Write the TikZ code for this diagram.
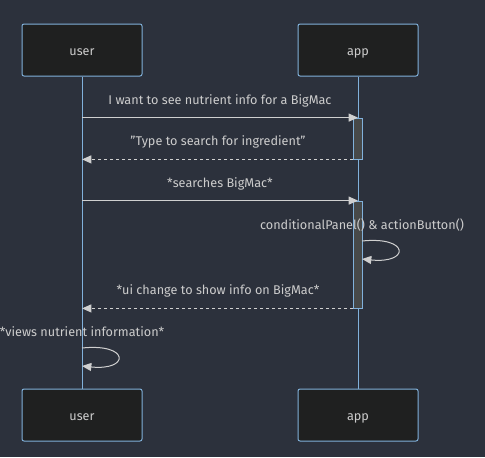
\documentclass[tikz,border=0pt]{standalone}
\usepackage{fontspec}
\setmainfont{Fira Sans}
\usetikzlibrary{arrows.meta}

\definecolor{bgdark}{HTML}{2C313C}
\definecolor{boxfill}{HTML}{1F2020}
\definecolor{lineblue}{HTML}{81B1DB}
\definecolor{arrgrey}{HTML}{D0D0D0}
\definecolor{txtgrey}{HTML}{CCCCCC}
\definecolor{actfill}{HTML}{474949}

\tikzset{
  actor/.style={draw=lineblue, fill=boxfill, rounded corners=1.5pt, line width=0.75pt,
    minimum width=90pt, minimum height=39pt, text=txtgrey, font=\fontsize{9.5}{11}\selectfont,
    text height=1.6ex, text depth=0.1ex},
  lifeline/.style={draw=lineblue, line width=0.75pt},
  actbar/.style={draw=lineblue, fill=actfill, line width=0.6pt, minimum width=6.75pt, inner sep=0pt},
  msg/.style={draw=arrgrey, line width=0.75pt, -{Triangle[length=7pt,width=6pt]}},
  reply/.style={msg, dash pattern=on 2.25pt off 2.25pt},
  lbl/.style={text=txtgrey, font=\fontsize{9.5}{11}\selectfont, inner sep=0pt}
}

\begin{document}
\begin{tikzpicture}[x=0.75pt,y=-0.75pt]
  \fill[bgdark] (0,0) rectangle (485,457);
  \useasboundingbox (0,0) rectangle (485,457);

  % participants
  \node[actor] (usertop) at (82,50) {user};
  \node[actor] (apptop) at (358,50) {app};
  \node[actor] (userbot) at (82,415) {user};
  \node[actor] (appbot) at (358,415) {app};
  \draw[lifeline] (usertop) -- (userbot);
  \draw[lifeline] (apptop) -- (appbot);

  % activations
  \node[actbar, minimum height=30.75pt] (actA) at (358,138.5) {};
  \node[actbar, minimum height=80.25pt] (actB) at (358,254.5) {};

  % messages
  \node[lbl] (lblA) at (220,101) {I want to see nutrient info for a BigMac};
  \draw[msg] (actA.north -| usertop) -- (actA.north);

  \node[lbl] (lblB) at (218,142) {"Type to search for ingredient"};
  \draw[reply] (actA.south west) -- (actA.south -| usertop);

  \node[lbl] (lblC) at (220,184) {*searches BigMac*};
  \draw[msg] (actB.north -| usertop) -- (actB.north);

  \node[lbl] (lblD) at (362,225) {conditionalPanel() \& actionButton()};
  \coordinate (loopA) at (362,241);
  \coordinate (loopAend) at (362,259);
  \draw[msg] (loopA) .. controls (410,236) and (410,264) .. (loopAend);

  \node[lbl] (lblE) at (218,291) {*ui change to show info on BigMac*};
  \draw[reply] (actB.south west) -- (actB.south -| usertop);

  \node[lbl] (lblF) at (82,332) {*views nutrient information*};
  \coordinate (loopB) at (82,348);
  \coordinate (loopBend) at (82,366);
  \draw[msg] (loopB) .. controls (130,343) and (130,371) .. (loopBend);
\end{tikzpicture}
\end{document}
